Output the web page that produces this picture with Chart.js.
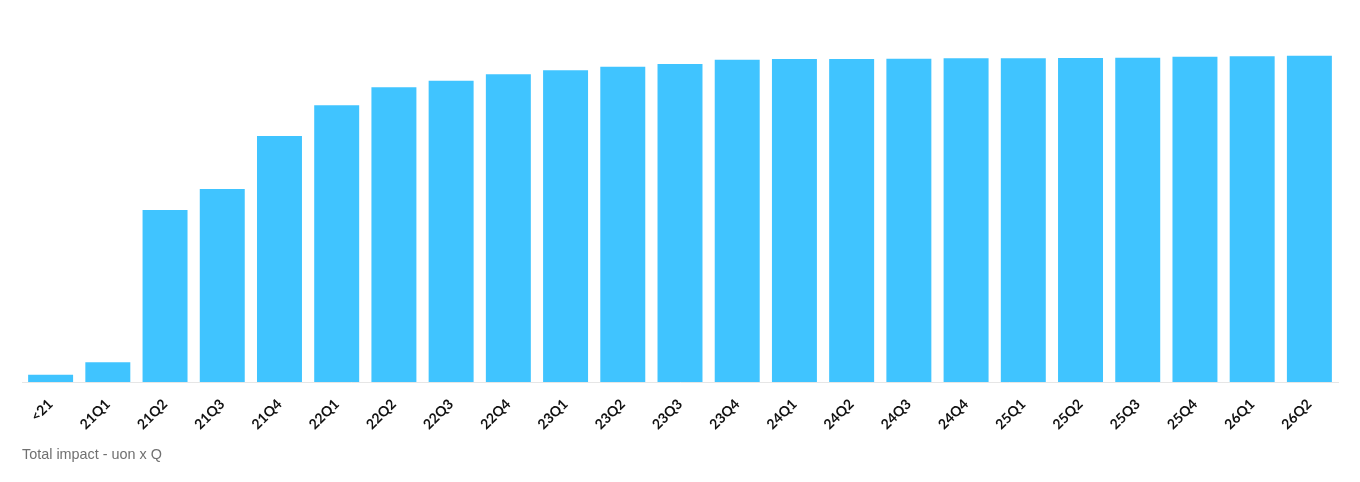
<!DOCTYPE html>
<html>
<head>
<meta charset="utf-8">
<script src="https://cdn.jsdelivr.net/npm/chart.js@4.4.1/dist/chart.umd.min.js"></script>
<style>
  html, body { margin: 0; padding: 0; background: #fff; }
  #wrap { position: absolute; left: 0; top: 0; width: 1360px; height: 482px; }
  #footer {
    position: absolute; left: 22px; top: 446px;
    font-family: "Liberation Sans", Arial, sans-serif; font-size: 14.4px; color: #707070;
  }
</style>
</head>
<body>
<div id="wrap"><canvas id="myChart"></canvas></div>
<div id="footer">Total impact - uon x Q</div>
<script>
const quarters = [
    '<21', '21Q1', '21Q2', '21Q3', '21Q4', '22Q1', '22Q2', '22Q3', '22Q4',
    '23Q1', '23Q2', '23Q3', '23Q4', '24Q1', '24Q2', '24Q3', '24Q4',
    '25Q1', '25Q2', '25Q3', '25Q4', '26Q1', '26Q2'
];

// total impact per quarter
const impact = [
    7.3, 19.7, 172, 193, 246, 276.7, 294.7, 301.3, 307.7,
    311.7, 315.3, 318, 322.3, 323, 323, 323.3, 323.7,
    323.7, 324, 324.3, 325.3, 325.7, 326.3
];

const Y_MAX = 360;
const BAR_COLOR = '#40C4FF';

const ctx = document.getElementById('myChart').getContext('2d');

new Chart(ctx, {
    type: 'bar',
    data: {
        labels: quarters,
        datasets: [{
            label: 'Total impact',
            data: impact,
            backgroundColor: BAR_COLOR,
            borderWidth: 0,
            barPercentage: 0.786,
            categoryPercentage: 1.0
        }]
    },
    options: {
        responsive: true,
        maintainAspectRatio: false,
        animation: false,
        layout: {
            padding: { top: 22, left: 22, right: 22, bottom: 0 }
        },
        plugins: {
            legend: { display: false },
            tooltip: { enabled: false }
        },
        scales: {
            x: {
                grid: { display: false, drawTicks: false },
                border: { display: true, color: '#e6e6e6', width: 1 },
                ticks: {
                    color: '#111111',
                    font: { family: 'Lato', size: 14, weight: 'bold' },
                    minRotation: 45,
                    maxRotation: 45,
                    padding: 14,
                    autoSkip: false
                },
                afterFit: (scale) => { scale.height = 100; }
            },
            y: {
                display: false,
                min: 0,
                max: Y_MAX
            }
        }
    }
});
</script>
</body>
</html>
